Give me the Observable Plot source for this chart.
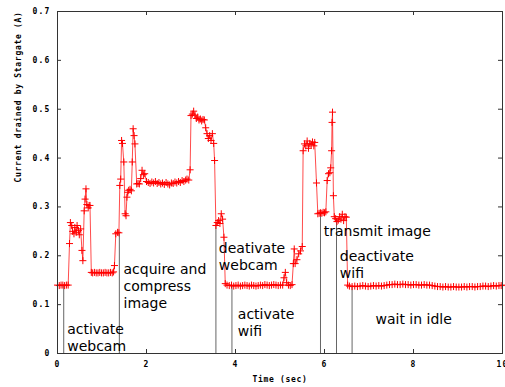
<!DOCTYPE html>
<html><head><meta charset="utf-8">
<script src="https://cdn.jsdelivr.net/npm/d3@7"></script>
<script src="https://cdn.jsdelivr.net/npm/@observablehq/plot@0.6"></script>
<style>body{margin:0;background:#fff}</style>
</head><body><div id="chart"></div>
<script>
const time = [
0.00,0.04,0.08,0.12,0.16,0.20,0.24,0.27,0.29,0.32,0.34,0.37,0.39,0.42,0.44,0.47,0.49,0.52,0.55,0.57,
0.60,0.62,0.64,0.66,0.69,0.71,0.73,0.76,0.79,0.83,0.87,0.91,0.95,0.99,1.03,1.07,1.11,1.15,1.19,1.23,
1.26,1.28,1.31,1.35,1.38,1.40,1.42,1.44,1.46,1.49,1.52,1.54,1.56,1.58,1.60,1.63,1.66,1.68,1.70,1.72,
1.74,1.78,1.81,1.84,1.87,1.90,1.93,1.96,2.00,2.04,2.08,2.12,2.16,2.20,2.24,2.28,2.32,2.36,2.40,2.44,
2.48,2.52,2.56,2.60,2.64,2.68,2.72,2.76,2.80,2.84,2.88,2.91,2.95,2.98,3.00,3.03,3.06,3.09,3.12,3.15,
3.18,3.21,3.24,3.27,3.30,3.33,3.36,3.39,3.42,3.45,3.48,3.51,3.53,3.56,3.59,3.62,3.65,3.68,3.71,3.74,
3.77,3.81,3.86,3.91,3.96,4.01,4.06,4.11,4.16,4.21,4.26,4.31,4.36,4.41,4.46,4.51,4.56,4.61,4.66,4.71,
4.76,4.81,4.86,4.91,4.96,5.01,5.06,5.09,5.12,5.15,5.19,5.23,5.27,5.30,5.32,5.34,5.38,5.42,5.46,5.50,
5.52,5.55,5.58,5.61,5.64,5.67,5.70,5.73,5.76,5.78,5.82,5.85,5.88,5.91,5.94,5.97,6.00,6.03,6.06,6.09,
6.12,6.14,6.16,6.17,6.18,6.20,6.22,6.25,6.28,6.31,6.34,6.37,6.40,6.43,6.46,6.49,6.52,6.56,6.62,6.68,
6.74,6.80,6.86,6.92,6.98,7.04,7.10,7.16,7.22,7.28,7.34,7.40,7.46,7.52,7.58,7.64,7.70,7.76,7.82,7.88,
7.94,8.00,8.06,8.12,8.18,8.24,8.30,8.36,8.42,8.48,8.54,8.60,8.66,8.72,8.78,8.84,8.90,8.96,9.02,9.08,
9.14,9.20,9.26,9.32,9.38,9.44,9.50,9.56,9.62,9.68,9.74,9.80,9.86,9.92,9.97,10.0];
const current = [
0.140,0.139,0.140,0.140,0.139,0.140,0.140,0.225,0.268,0.262,0.250,0.245,0.258,0.248,0.262,0.252,0.243,0.255,0.211,0.190,
0.292,0.316,0.337,0.305,0.298,0.303,0.303,0.166,0.165,0.166,0.165,0.165,0.166,0.165,0.165,0.166,0.165,0.165,0.166,0.165,
0.167,0.180,0.245,0.248,0.247,0.344,0.357,0.436,0.430,0.392,0.286,0.282,0.320,0.330,0.334,0.336,0.333,0.392,0.460,0.446,
0.429,0.347,0.348,0.347,0.358,0.375,0.366,0.368,0.352,0.350,0.348,0.351,0.349,0.352,0.348,0.350,0.347,0.349,0.346,0.350,
0.347,0.345,0.349,0.348,0.351,0.349,0.352,0.350,0.354,0.352,0.355,0.357,0.355,0.376,0.487,0.490,0.496,0.488,0.481,0.484,
0.478,0.480,0.476,0.479,0.478,0.462,0.450,0.440,0.446,0.436,0.450,0.430,0.395,0.262,0.268,0.272,0.266,0.286,0.275,0.238,
0.143,0.140,0.139,0.140,0.138,0.139,0.140,0.138,0.139,0.140,0.139,0.138,0.140,0.139,0.138,0.139,0.140,0.139,0.141,0.140,
0.139,0.140,0.141,0.140,0.139,0.140,0.140,0.155,0.166,0.145,0.140,0.139,0.141,0.184,0.214,0.184,0.192,0.204,0.210,0.219,
0.415,0.429,0.425,0.435,0.420,0.430,0.428,0.433,0.425,0.432,0.349,0.286,0.287,0.288,0.287,0.289,0.288,0.290,0.354,0.368,
0.370,0.380,0.415,0.473,0.494,0.323,0.280,0.276,0.270,0.273,0.280,0.275,0.285,0.272,0.280,0.279,0.140,0.138,0.137,0.138,
0.137,0.138,0.139,0.138,0.137,0.138,0.139,0.138,0.139,0.138,0.139,0.140,0.141,0.141,0.142,0.141,0.141,0.142,0.141,0.141,
0.140,0.141,0.141,0.140,0.140,0.141,0.140,0.140,0.139,0.138,0.137,0.137,0.136,0.137,0.136,0.136,0.137,0.136,0.136,0.136,
0.137,0.136,0.137,0.137,0.136,0.137,0.137,0.138,0.138,0.137,0.138,0.139,0.138,0.139,0.139,0.140];

const xTicks = [0, 2, 4, 6, 8, 10];
const yTicks = [0, 0.1, 0.2, 0.3, 0.4, 0.5, 0.6, 0.7];
const yTickLabels = ["0", "0.1", "0.2", "0.3", "0.4", "0.5", "0.6", "0.7"];

const eventTimes = [0.14, 1.39, 3.56, 3.92, 5.91, 6.27, 6.62];
const eventTops = [0.140, 0.246, 0.260, 0.139, 0.287, 0.276, 0.138];

const noteText = ["activate\nwebcam", "acquire and\ncompress\nimage", "deativate\nwebcam", "activate\nwifi", "transmit image", "deactivate\nwifi", "wait in idle"];
const noteX = [0.218, 1.483, 3.625, 4.052, 5.984, 6.344, 7.146];
const noteY = [0.064, 0.187, 0.230, 0.095, 0.265, 0.213, 0.0845];

const xLabel = "Time (sec)";
const yLabel = "Current drained by Stargate (A)";

const data = time.map((t, i) => ({t, a: current[i]}));
const events = eventTimes.map((t, i) => ({t, top: eventTops[i]}));
const notes = noteText.map((text, i) => ({text, x: noteX[i], y: noteY[i]}));

const W = 505, H = 387, mL = 57, mR = 3, mT = 11, mB = 34;
const pw = W - mL - mR, ph = H - mT - mB;
const mono = "'DejaVu Sans Mono', 'Liberation Mono', monospace";

const chart = Plot.plot({
  width: W, height: H,
  marginLeft: mL, marginRight: mR, marginTop: mT, marginBottom: mB,
  x: {domain: [0, 10]},
  y: {domain: [0, 0.7]},
  style: {background: "white", color: "black", fontFamily: mono, fontSize: "8px", fontWeight: "bold"},
  marks: [
    Plot.ruleX(events, {x: "t", y1: 0, y2: "top", stroke: "#666", strokeWidth: 1}),
    Plot.line(data, {x: "t", y: "a", stroke: "red", strokeOpacity: 0.7, strokeWidth: 1}),
    Plot.dot(data, {x: "t", y: "a", symbol: "plus", r: 2.4, stroke: "red", strokeWidth: 1}),
    Plot.text(notes, {x: "x", y: "y", text: "text", textAnchor: "start", lineAnchor: "top", lineHeight: 1.21,
      fontFamily: "'DejaVu Sans', sans-serif", fontSize: 14, fontWeight: "normal", fill: "black"}),
    Plot.tickX(xTicks, {x: d => d, insetTop: ph - 4, stroke: "#333"}),
    Plot.tickX(xTicks, {x: d => d, insetBottom: ph - 4, stroke: "#333"}),
    Plot.tickY(yTicks, {y: d => d, insetRight: pw - 4, stroke: "#333"}),
    Plot.tickY(yTicks, {y: d => d, insetLeft: pw - 4, stroke: "#333"}),
    Plot.frame({stroke: "#333"}),
    Plot.axisX(xTicks, {tickSize: 0, tickPadding: 8, label: null, tickFormat: d => String(d)}),
    Plot.axisY(yTicks, {tickSize: 0, tickPadding: 7, label: null, tickFormat: d => yTickLabels[yTicks.indexOf(d)]}),
    Plot.text([xLabel], {text: d => d, frameAnchor: "bottom", dy: 28}),
    Plot.text([yLabel], {text: d => d, frameAnchor: "left", dx: -39, rotate: -90})
  ]
});
d3.select(chart).selectAll('g[aria-label="x-axis tick label"] text, g[aria-label="y-axis tick label"] text')
  .style("letter-spacing", "1.2px");
d3.select(chart).selectAll('g[aria-label="text"]').filter((d, i) => i > 0).selectAll("text")
  .style("letter-spacing", "0.7px");
document.getElementById("chart").appendChild(chart);
</script>
</body></html>
